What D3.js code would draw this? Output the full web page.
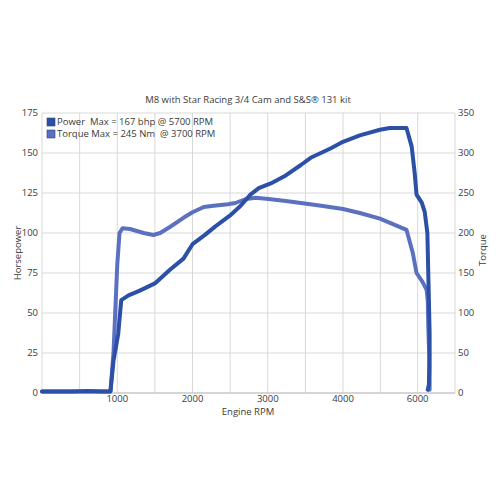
<!DOCTYPE html>
<html><head><meta charset="utf-8">
<script src="https://cdn.jsdelivr.net/npm/d3@7"></script>
<style>body{margin:0;background:#fff}text{font-family:"Open Sans","Liberation Sans",sans-serif;fill:#3a3a3a;white-space:pre}</style>
</head><body><svg id="c" width="500" height="500"></svg>
<script>
const title = "M8 with Star Racing 3/4 Cam and S&S\u00ae 131 kit";
const powerRpm = [0,200,400,600,800,910,950,1013,1053,1150,1300,1500,1700,1880,2000,2170,2300,2500,2640,2770,2880,3040,3240,3440,3570,3840,4000,4450,4990,5250,5700,5840,5920,5970,6110,6190,6260,6290,6320,6320,6300,6270];
const powerHp = [1,1,1,1.2,1,1,20,37,58,61,64,68.5,77,84,93,99,104,111,117,124,128,131,136,142.5,147,153,157,161,164.5,165.6,165.6,154,137.5,124,119,113,100,69,37.5,25,5,2];
const torqueRpm = [0,400,800,910,950,1000,1030,1070,1170,1350,1480,1570,1700,1880,2000,2150,2280,2470,2570,2710,2840,3010,3240,3440,3710,4000,4450,4990,5700,5870,5970,6130,6240,6270,6290,6320,6320];
const torqueNm = [2,2,2,2,50,160,200,206,205,200,197.5,200,207.5,219,226,232.5,234,236,237.5,242.5,244,242.5,240,237.5,234,230,225,218,204,175,150,139,129,116,75,33,4];
const xGrid = [0,500,1000,1500,2000,2500,3000,3500,4000,5000,6000,7000];
const xTickLabels = [1000,2000,3000,4000,6000];
const hpTicks = [0,25,50,75,100,125,150,175];
const nmTicks = [0,50,100,150,200,250,300,350];
const legendLabels = ["Power  Max = 167 bhp @ 5700 RPM","Torque Max = 245 Nm  @ 3700 RPM"];
const colors = ["#2c50a6","#5b71c0"];

const svg = d3.select("#c");
const L=42,R=455,T=113,B=393;
const x = d3.scaleLinear().domain([0,4000,7000]).range([L,343,R]);
const yL = d3.scaleLinear().domain([0,175]).range([B,T]);
const yR = d3.scaleLinear().domain([0,350]).range([B,T]);

// grid
svg.append("g").selectAll("line").data(xGrid).join("line")
  .attr("x1",d=>x(d)).attr("x2",d=>x(d)).attr("y1",T).attr("y2",B)
  .attr("stroke","#d9d9d9").attr("stroke-width",1);
svg.append("g").selectAll("line").data(hpTicks).join("line")
  .attr("x1",L).attr("x2",R).attr("y1",d=>yL(d)).attr("y2",d=>yL(d))
  .attr("stroke","#d9d9d9").attr("stroke-width",1);
svg.append("line").attr("x1",L).attr("x2",R).attr("y1",B).attr("y2",B).attr("stroke","#bfbfbf");

// axes labels
svg.append("g").selectAll("text").data(hpTicks).join("text")
  .attr("x",L-4).attr("y",d=>yL(d)).attr("dy","0.35em").attr("text-anchor","end")
  .attr("font-size",9.5).text(d=>d);
svg.append("g").selectAll("text").data(nmTicks).join("text")
  .attr("x",R+3).attr("y",d=>yR(d)).attr("dy","0.35em").attr("text-anchor","start")
  .attr("font-size",9.5).text(d=>d);
svg.append("g").selectAll("text").data(xTickLabels).join("text")
  .attr("x",d=>x(d)).attr("y",B+6).attr("dy","0.35em").attr("text-anchor","middle")
  .attr("font-size",9.5).text(d=>d);

svg.append("text").attr("x",248).attr("y",103).attr("text-anchor","middle").attr("font-size",9.5).text(title);
svg.append("text").attr("x",248).attr("y",415).attr("text-anchor","middle").attr("font-size",9.5).text("Engine RPM");
svg.append("text").attr("transform","translate(21,253) rotate(-90)").attr("text-anchor","middle").attr("font-size",9.5).text("Horsepower");
svg.append("text").attr("transform","translate(486,250) rotate(-90)").attr("text-anchor","middle").attr("font-size",9.5).text("Torque");

// lines
const torqueData = torqueRpm.map((r,i)=>[r,torqueNm[i]]);
const powerData = powerRpm.map((r,i)=>[r,powerHp[i]]);
svg.append("path").datum(torqueData).attr("fill","none").attr("stroke",colors[1]).attr("stroke-width",4)
  .attr("stroke-linejoin","round").attr("stroke-linecap","round")
  .attr("d",d3.line().x(d=>x(d[0])).y(d=>yR(d[1])));
svg.append("path").datum(powerData).attr("fill","none").attr("stroke",colors[0]).attr("stroke-width",4)
  .attr("stroke-linejoin","round").attr("stroke-linecap","round")
  .attr("d",d3.line().x(d=>x(d[0])).y(d=>yL(d[1])));

// legend
const lg = svg.append("g").selectAll("g").data(legendLabels).join("g")
  .attr("transform",(d,i)=>`translate(47,${118+i*12})`);
lg.append("rect").attr("width",8).attr("height",8).attr("fill",(d,i)=>colors[i]).attr("stroke","#2a3f80").attr("stroke-width",0.6);
lg.append("text").attr("x",10).attr("y",4).attr("dy","0.35em").attr("font-size",9.5).text(d=>d);
</script></body></html>
